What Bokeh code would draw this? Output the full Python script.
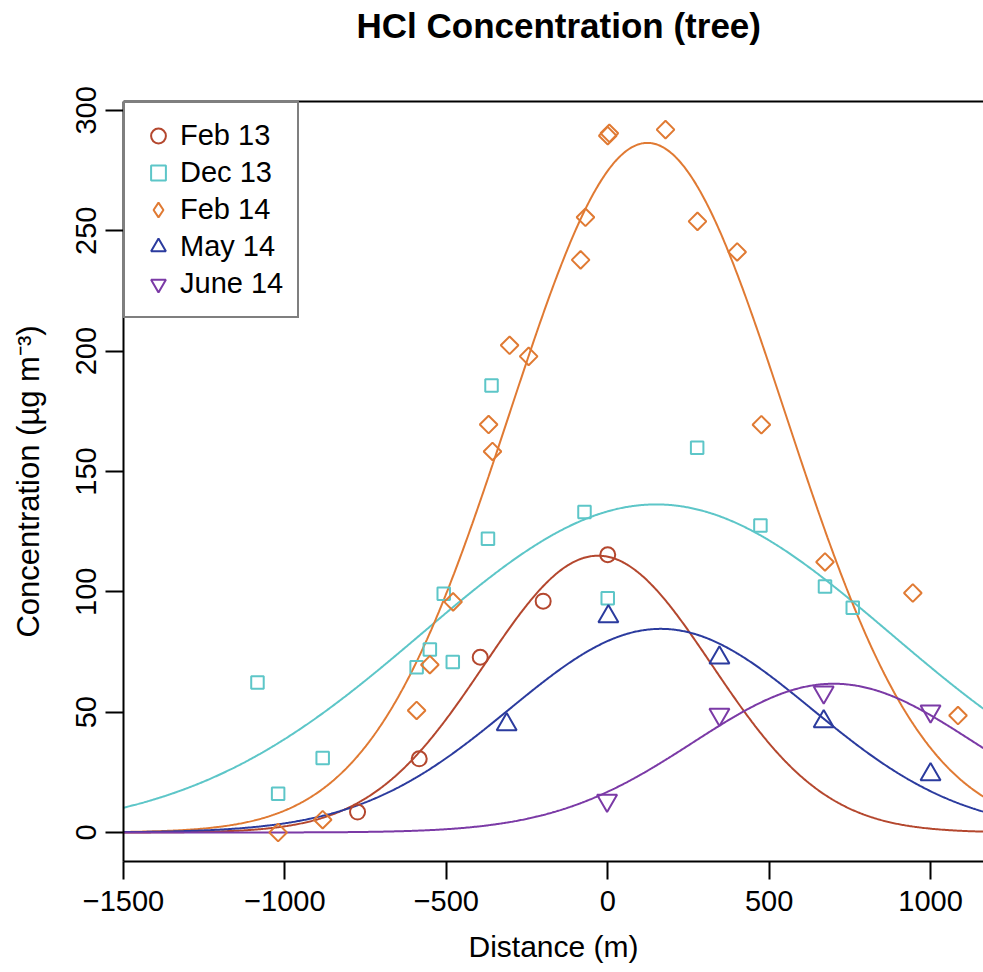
import numpy as np
from bokeh.plotting import figure
from bokeh.models import Range1d, LinearAxis, FixedTicker, Legend, LegendItem
from bokeh.embed import file_html
from bokeh.resources import INLINE

# ---------------- data ----------------
series_names = ["Feb 13", "Dec 13", "Feb 14", "May 14", "June 14"]
series_colors = ["#B4472E", "#5DC6C8", "#E07A33", "#2B3B9E", "#7B3AA6"]

feb13_x = [-775, -584, -395, -200, 0]
feb13_y = [8.5, 30.6, 72.8, 96.1, 115.4]

dec13_x = [-1085, -1021, -883, -592, -551, -508, -480, -371, -360, -72, 0, 277, 473, 673, 759]
dec13_y = [62.3, 16.1, 31.0, 68.7, 76.0, 99.2, 70.8, 122.0, 185.7, 133.2, 97.3, 159.8, 127.5, 102.2, 93.4]

feb14_x = [-1021, -883, -592, -551, -479, -369, -357, -304, -245, -84, -69, 0, 5, 179, 278, 401, 476, 673, 945, 1085]
feb14_y = [0.0, 5.3, 50.7, 69.7, 95.8, 169.5, 158.3, 202.4, 197.8, 237.9, 255.6, 289.5, 290.5, 292.0, 253.9, 241.2, 169.4, 112.4, 99.5, 48.6]

may14_x = [-313, 2, 346, 669, 1000]
may14_y = [44.9, 89.7, 72.6, 46.1, 24.1]

jun14_x = [-2, 346, 669, 1000]
jun14_y = [13.3, 49.0, 58.3, 50.4]

# fitted curves: peak height, centre and spread of each fitted peak
fit_peak = [115.0, 136.3, 286.5, 84.6, 61.8]
fit_centre = [-30.0, 150.0, 123.0, 164.0, 700.0]
fit_spread = [352.0, 726.0, 428.0, 468.0, 435.0]

x_ticks = [-1500, -1000, -500, 0, 500, 1000]
y_ticks = [0, 50, 100, 150, 200, 250, 300]
x_start, x_end = -1500, 1164
y_start, y_end = -12.05, 303.7

title_text = "HCl Concentration (tree)"
FONT = "Liberation Sans"

p = figure(width=983, height=972, output_backend="svg", toolbar_location=None, title=title_text,
           x_range=Range1d(x_start, x_end), y_range=Range1d(y_start, y_end),
           min_border_left=123, min_border_right=0, min_border_top=101, min_border_bottom=111)
p.xgrid.visible = False
p.ygrid.visible = False
p.outline_line_color = None
p.background_fill_color = "white"
p.border_fill_color = "white"

# title
p.title.text_font = FONT
p.title.text_font_size = "35px"
p.title.text_font_style = "bold"
p.title.text_color = "black"
p.title.align = "left"
p.title.offset = 233
p.title.standoff = 4

# axes
for ax in (p.xaxis[0], p.yaxis[0]):
    ax.axis_line_width = 2
    ax.axis_line_color = "black"
    ax.major_tick_line_width = 2
    ax.major_tick_line_color = "black"
    ax.major_tick_out = 18
    ax.major_tick_in = 0
    ax.minor_tick_line_color = None
    ax.major_label_text_font = FONT
    ax.major_label_text_font_size = "29px"
    ax.major_label_text_color = "black"
    ax.axis_label_text_font = FONT
    ax.axis_label_text_font_style = "normal"
    ax.axis_label_text_color = "black"

p.xaxis[0].ticker = FixedTicker(ticks=x_ticks)
p.xaxis[0].major_label_overrides = {t: str(t).replace("-", "\u2212") for t in x_ticks}
p.xaxis[0].major_label_standoff = 11
p.xaxis[0].axis_label = "Distance (m)"
p.xaxis[0].axis_label_text_font_size = "30px"
p.xaxis[0].axis_label_standoff = 16

p.yaxis[0].ticker = FixedTicker(ticks=y_ticks)
p.yaxis[0].major_label_orientation = "vertical"
p.yaxis[0].major_label_standoff = 9
p.yaxis[0].axis_label = "Concentration (\u00b5g m\u207b\u00b3)"
p.yaxis[0].axis_label_text_font = FONT
p.yaxis[0].axis_label_text_font_size = "31px"
p.yaxis[0].axis_label_standoff = 28

# top border of the box (an axis with no ticks); a blank label leaves room under the title
top_axis = LinearAxis(ticker=FixedTicker(ticks=[]), axis_line_width=2, axis_line_color="black",
                      major_tick_line_color=None, minor_tick_line_color=None,
                      major_tick_out=0, major_tick_in=0,
                      major_label_text_font_size="0px",
                      axis_label=" ", axis_label_text_font_size="10px",
                      axis_label_standoff=41)
p.add_layout(top_axis, "above")

# curves
xs_curve = np.linspace(x_start, x_end, 800)
for a, mu, s, col in zip(fit_peak, fit_centre, fit_spread, series_colors):
    p.line(xs_curve, a * np.exp(-((xs_curve - mu) ** 2) / (2 * s ** 2)), line_color=col, line_width=2)

# points
pts = [(feb13_x, feb13_y, "circle", 15, 0.0, "circle"),
       (dec13_x, dec13_y, "square", 12.5, 0.0, "square"),
       (feb14_x, feb14_y, "square", 12.5, np.pi / 4, "diamond"),
       (may14_x, may14_y, "triangle", 20, 0.0, "triangle"),
       (jun14_x, jun14_y, "inverted_triangle", 20, 0.0, "inverted_triangle")]
items = []
for (xs, ys, mk, sz, ang, legmk), col, name in zip(pts, series_colors, series_names):
    r = p.scatter(xs, ys, marker=mk, size=sz, angle=ang, fill_color=None,
                  line_color=col, line_width=2)
    if legmk != mk:
        # legend key with the diamond shape (legend keys are never rotated);
        # zero-size in the plot, the legend sizes its key from the key box
        r = p.scatter(xs[:1], ys[:1], marker=legmk, size=0, fill_color=None,
                      line_color=col, line_width=2)
    items.append(LegendItem(label=name, renderers=[r]))

legend = Legend(items=items, location="top_left", margin=0, padding=14, spacing=0,
                glyph_width=38, glyph_height=37, label_height=37, label_standoff=3,
                label_text_font=FONT, label_text_font_size="29px", label_text_color="black",
                border_line_color="black", border_line_width=2, background_fill_color="white",
                background_fill_alpha=1.0)
p.add_layout(legend)

open("out.html", "w").write(file_html(p, INLINE))
